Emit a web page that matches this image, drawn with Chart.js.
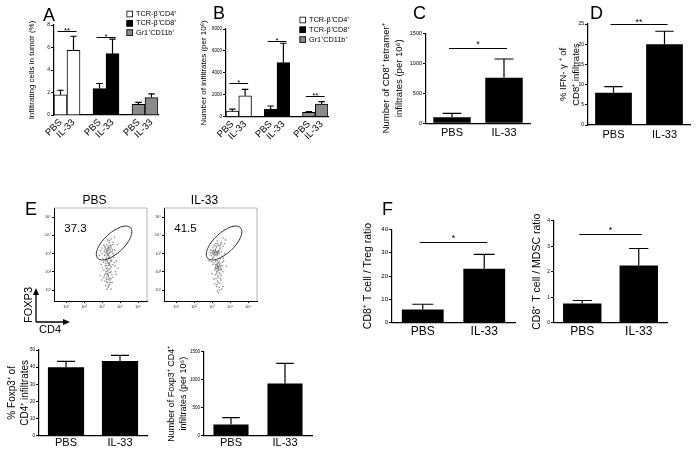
<!DOCTYPE html>
<html><head><meta charset="utf-8">
<script src="https://cdn.jsdelivr.net/npm/chart.js@4.4.1/dist/chart.umd.min.js"></script>
<style>
html,body{margin:0;padding:0;background:#fff;width:700px;height:450px;overflow:hidden}
canvas{position:absolute;left:0;top:0}
</style></head><body>
<canvas id="cA" width="700" height="450"></canvas>
<canvas id="cB" width="700" height="450"></canvas>
<canvas id="cC" width="700" height="450"></canvas>
<canvas id="cD" width="700" height="450"></canvas>
<canvas id="cE1" width="700" height="450"></canvas>
<canvas id="cE2" width="700" height="450"></canvas>
<canvas id="cE3" width="700" height="450"></canvas>
<canvas id="cE4" width="700" height="450"></canvas>
<canvas id="cF1" width="700" height="450"></canvas>
<canvas id="cF2" width="700" height="450"></canvas>
<script>
Chart.defaults.font.family = "'Liberation Sans', Arial, Helvetica, sans-serif";
Chart.defaults.color = '#000';

// ---------- DATA ----------
const groupCategories = ['PBS', 'IL-33', '', 'PBS', 'IL-33', '', 'PBS', 'IL-33'];
const seriesNames = ['TCR-β⁺CD4⁺', 'TCR-β⁺CD8⁺', 'Gr1⁺CD11b⁺'];
const twoGroups = ['PBS', 'IL-33'];

// Panel A: infiltrating cells in tumor (%)
const aCD4 = [1.8, 5.75], aCD4Err = [2.2, 7.0];
const aCD8 = [2.35, 5.45], aCD8Err = [2.8, 6.75];
const aGr1 = [0.95, 1.55], aGr1Err = [1.12, 1.88];
const aTicks = [0, 2, 4, 6, 8];
const aSig = [{from: 0, to: 1, y: 7.47, text: '**'}, {from: 3, to: 4, y: 6.97, text: '*'}];

// Panel B: number of infiltrates (per 10^6)
const bCD4 = [520, 1915], bCD4Err = [700, 2500];
const bCD8 = [700, 4930], bCD8Err = [975, 6700];
const bGr1 = [400, 1160], bGr1Err = [460, 1370];
const bTicks = [0, 2000, 4000, 6000, 8000];
const bSig = [{from: 0, to: 1, y: 3050, text: '*'}, {from: 3, to: 4, y: 6935, text: '*'}, {from: 6, to: 7, y: 1916, text: '**'}];

// Panel C: CD8+ tetramer+ infiltrates
const cVals = [100, 760], cErr = [167, 1072];
const cTicks = [0, 500, 1000, 1500];
const cSig = [{from: 0, to: 1, y: 1250, text: '*'}];

// Panel D: % IFN-γ+ of CD8+
const dVals = [8.0, 20.0], dErr = [9.5, 23.2];
const dTicks = [0, 5, 10, 15, 20, 25];
const dSig = [{from: 0, to: 1, y: 25, text: '**'}];

// Panel E: flow cytometry (log10 units of CD4, FOXP3)
const flowTitles = ['PBS', 'IL-33'];
const flowPercents = ['37.3', '41.5'];
const flowTicks = [1, 2, 3, 4, 5];
const pbsEvents = [[3.3,3.2],[3.4,3.25],[3.25,3.1],[3.45,3.15],[3.35,3.35],[3.2,3.3],[3.5,3.3],[3.3,3.0],[3.4,3.05],[3.15,3.2],[3.55,3.1],[3.35,2.9],[3.25,2.8],[3.45,2.75],[3.3,2.6],[3.4,2.5],[3.2,2.45],[3.5,2.55],[3.35,2.35],[3.25,2.2],[3.45,2.2],[3.3,2.05],[3.4,1.95],[3.2,1.9],[3.55,1.85],[3.35,1.75],[3.25,1.6],[3.45,1.55],[3.3,1.4],[3.4,1.3],[3.15,1.5],[3.6,1.7],[3.1,2.1],[3.6,2.4],[3.05,2.7],[3.65,2.9],[3.1,3.45],[3.6,3.5],[3.4,3.6],[3.3,3.75],[3.5,3.8],[3.0,3.0],[3.7,3.2],[2.95,2.4],[3.75,2.0],[3.35,1.15],[3.5,1.05],[3.2,1.25],[2.9,1.8],[3.8,2.6],[3.25,3.5],[3.45,3.45],[3.3,2.7],[3.4,2.85],[3.5,2.0],[3.2,2.6],[3.35,2.45],[3.45,2.35],[3.25,2.35],[3.3,1.85],[3.4,1.65],[3.15,2.9],[3.55,2.65],[3.6,3.0],[3.1,1.7],[3.0,3.3],[3.85,3.5],[3.7,3.9],[2.85,2.9],[3.9,2.2],[3.28,3.12],[3.38,3.18],[3.32,3.28],[3.42,3.35],[3.22,3.05],[3.36,2.98],
  [3.28,2.92],[3.38,2.78],[3.22,2.68],[3.48,2.62],[3.32,2.52],[3.42,2.42],[3.18,2.32],[3.52,2.28],[3.28,2.18],[3.38,2.12],[3.22,2.02],[3.46,1.98],[3.3,1.92],[3.36,1.82],[3.24,1.72],[3.5,1.62],[3.34,1.58],[3.26,1.45],[3.44,1.42],[3.36,1.22],[3.12,3.1],[3.58,3.22],[3.46,3.05],[3.24,3.22],[3.34,3.42],[3.52,3.42],[3.16,3.38],[3.4,3.72],[3.62,3.62],[3.08,2.52],[3.68,2.52],[3.02,2.22],[3.72,2.32],[3.28,1.05],[2.98,1.55],[3.78,1.85],[3.56,1.42],[3.14,1.82],[3.66,2.78],[2.92,3.15]];
const il33Events = [[3.15,3.05],[3.25,3.1],[3.05,3.0],[3.35,3.15],[3.2,3.25],[3.1,3.2],[3.3,2.95],[3.0,3.15],[3.4,3.0],[3.15,2.9],[3.25,3.35],[3.05,3.35],[3.45,3.3],[3.35,3.45],[3.2,3.55],[3.5,3.6],[3.3,3.7],[3.6,3.4],[2.95,2.9],[3.1,2.8],[3.3,2.35],[3.4,2.3],[3.2,2.25],[3.5,2.2],[3.35,2.15],[3.25,2.4],[3.45,2.45],[3.3,2.05],[3.15,2.1],[3.55,2.35],[3.4,1.95],[3.2,1.85],[3.35,1.7],[3.5,1.8],[3.3,1.5],[3.45,1.35],[3.25,1.2],[3.4,1.0],[3.35,0.85],[3.1,1.6],[3.6,2.0],[3.05,2.4],[3.65,2.6],[3.3,2.6],[3.2,2.6],[3.45,2.7],[3.0,2.55],[3.7,3.0],[3.55,2.85],[2.9,3.2],[3.75,3.75],[3.6,3.85],[3.35,2.5],[3.25,2.0],[3.5,1.55],[3.15,1.35],[3.6,1.2],[3.0,1.9],[3.8,2.3],[2.85,2.6],[3.3,3.05],[3.2,2.95],[3.1,3.1],[3.4,3.2],[3.25,2.2],[3.35,2.25],[3.45,2.1],[3.2,2.4],[3.18,3.12],[3.28,3.02],[3.32,2.28],[3.38,2.2],
  [3.12,3.02],[3.22,3.08],[3.02,3.08],[3.32,3.1],[3.18,3.18],[3.08,2.95],[3.28,2.88],[3.38,3.08],[3.22,3.42],[3.42,3.42],[3.12,3.45],[3.3,3.55],[3.48,3.5],[3.32,2.32],[3.42,2.38],[3.22,2.32],[3.48,2.28],[3.28,2.18],[3.38,2.08],[3.18,2.18],[3.52,2.12],[3.3,2.45],[3.4,2.55],[3.26,1.92],[3.44,1.88],[3.32,1.78],[3.22,1.62],[3.46,1.65],[3.36,1.42],[3.28,1.32],[3.4,1.15],[3.12,2.5],[3.58,2.52],[3.02,2.75],[3.62,2.75],[3.52,3.1],[2.92,3.05],[3.7,3.55],[3.3,0.95],[3.55,1.05]];

// Panel E bars
const eFoxVals = [40.0, 43.6], eFoxErr = [43.4, 46.9];
const eFoxTicks = [0, 10, 20, 30, 40, 50];
const eNumVals = [202, 934], eNumErr = [321, 1292];
const eNumTicks = [0, 500, 1000, 1500];

// Panel F ratios
const fTregVals = [5.6, 23.1], fTregErr = [7.9, 29.3];
const fTregTicks = [0, 10, 20, 30, 40];
const fTregSig = [{from: 0, to: 1, y: 34.4, text: '*'}];
const fMdscVals = [0.75, 2.24], fMdscErr = [0.87, 2.91];
const fMdscTicks = [0, 1, 2, 3, 4];
const fMdscSig = [{from: 0, to: 1, y: 3.48, text: '*'}];

// ---------- PLUGINS ----------
const errorBars = {
  id: 'errorBars',
  afterDatasetsDraw(chart) {
    const ctx = chart.ctx, y = chart.scales.y;
    chart.data.datasets.forEach((ds, di) => {
      if (!ds.errors) return;
      chart.getDatasetMeta(di).data.forEach((bar, i) => {
        const e = ds.errors[i];
        if (e == null || ds.data[i] == null) return;
        const top = y.getPixelForValue(e), hw = bar.width * 0.25;
        ctx.save();
        ctx.strokeStyle = '#000'; ctx.lineWidth = 1.2;
        ctx.beginPath();
        ctx.moveTo(bar.x, bar.y); ctx.lineTo(bar.x, top);
        ctx.moveTo(bar.x - hw, top); ctx.lineTo(bar.x + hw, top);
        ctx.stroke(); ctx.restore();
      });
    });
  }
};
const sigPlugin = {
  id: 'sig',
  afterDatasetsDraw(chart, args, o) {
    if (!o.items) return;
    const ctx = chart.ctx, x = chart.scales.x, y = chart.scales.y;
    o.items.forEach(it => {
      const x1 = x.getPixelForValue(it.from) - o.ext, x2 = x.getPixelForValue(it.to) + o.ext;
      const py = Math.round(y.getPixelForValue(it.y)) + 0.5;
      ctx.save();
      ctx.strokeStyle = '#000'; ctx.lineWidth = 1;
      ctx.beginPath(); ctx.moveTo(x1, py); ctx.lineTo(x2, py); ctx.stroke();
      ctx.fillStyle = '#000'; ctx.font = o.size + "px 'Liberation Sans', Arial";
      ctx.textAlign = 'center'; ctx.textBaseline = 'alphabetic';
      ctx.fillText(it.text, (x1 + x2) / 2, py + o.dy);
      ctx.restore();
    });
  }
};
const miniLegend = {
  id: 'miniLegend',
  afterDraw(chart, args, o) {
    if (!o.show) return;
    const ctx = chart.ctx;
    chart.data.datasets.forEach((ds, i) => {
      const cy = o.y + i * o.row;
      ctx.save();
      ctx.fillStyle = ds.backgroundColor; ctx.fillRect(o.x, cy - o.box / 2, o.box, o.box);
      ctx.strokeStyle = '#000'; ctx.lineWidth = 0.8; ctx.strokeRect(o.x + 0.4, cy - o.box / 2 + 0.4, o.box - 0.8, o.box - 0.8);
      ctx.fillStyle = '#000'; ctx.font = o.size + "px 'Liberation Sans', Arial";
      ctx.textAlign = 'left'; ctx.textBaseline = 'middle';
      ctx.fillText(ds.label, o.x + o.box + 3, cy);
      ctx.restore();
    });
  }
};
const panelLetter = {
  id: 'panelLetter',
  afterDraw(chart, args, o) {
    if (!o.text) return;
    const ctx = chart.ctx;
    ctx.save(); ctx.fillStyle = '#000';
    ctx.font = o.size + "px 'Liberation Sans', Arial";
    ctx.textAlign = 'left'; ctx.textBaseline = 'alphabetic';
    ctx.fillText(o.text, o.x, o.y);
    ctx.restore();
  }
};
const framePlugin = {
  id: 'frame',
  beforeDatasetsDraw(chart) {
    const {left, top, right, bottom} = chart.chartArea, ctx = chart.ctx;
    ctx.save(); ctx.strokeStyle = '#a0a0a0'; ctx.lineWidth = 0.8;
    ctx.beginPath(); ctx.moveTo(left, top); ctx.lineTo(right, top); ctx.lineTo(right, bottom); ctx.stroke();
    ctx.restore();
  }
};
const gatePlugin = {
  id: 'gate',
  afterDatasetsDraw(chart, args, o) {
    const x = chart.scales.x, y = chart.scales.y, ctx = chart.ctx;
    const ppu = Math.abs(x.getPixelForValue(1) - x.getPixelForValue(0));
    ctx.save(); ctx.strokeStyle = '#333'; ctx.lineWidth = 1;
    ctx.beginPath();
    ctx.ellipse(x.getPixelForValue(o.cx), y.getPixelForValue(o.cy), o.rx * ppu, o.ry * ppu, o.angle * Math.PI / 180, 0, Math.PI * 2);
    ctx.stroke();
    ctx.fillStyle = '#000'; ctx.font = o.size + "px 'Liberation Sans', Arial";
    ctx.textAlign = 'left'; ctx.textBaseline = 'middle';
    ctx.fillText(o.label, x.getPixelForValue(o.lx), y.getPixelForValue(o.ly));
    ctx.restore();
  }
};
const axisArrows = {
  id: 'axisArrows',
  afterDraw(chart, args, o) {
    if (!o.show) return;
    const ctx = chart.ctx;
    ctx.save(); ctx.strokeStyle = '#000'; ctx.fillStyle = '#000'; ctx.lineWidth = 1.3;
    ctx.beginPath(); ctx.moveTo(36, 322); ctx.lineTo(36, 293); ctx.moveTo(36, 322); ctx.lineTo(66, 322); ctx.stroke();
    ctx.beginPath(); ctx.moveTo(36, 288); ctx.lineTo(33, 295); ctx.lineTo(39, 295); ctx.closePath(); ctx.fill();
    ctx.beginPath(); ctx.moveTo(70, 322); ctx.lineTo(63, 319); ctx.lineTo(63, 325); ctx.closePath(); ctx.fill();
    ctx.font = "11px 'Liberation Sans', Arial"; ctx.textBaseline = 'middle'; ctx.textAlign = 'center';
    ctx.fillText('CD4', 50, 329.5);
    ctx.translate(29, 305); ctx.rotate(-Math.PI / 2); ctx.fillText('FOXP3', 0, 0);
    ctx.restore();
  }
};

// ---------- HELPERS ----------
function spread(vals, start) {
  const out = groupCategories.map(() => null);
  vals.forEach((v, i) => { out[start + i] = v; });
  return out;
}
function barChart(id, c) {
  const lh = c.titleSize * c.titleLH;
  const padLeft = c.titleX - lh / 2;
  const yW = c.area.l - padLeft;
  return new Chart(document.getElementById(id), {
    type: 'bar',
    data: {labels: c.labels, datasets: c.datasets},
    options: {
      responsive: false, animation: false, events: [], devicePixelRatio: 1,
      layout: {padding: {left: padLeft, top: c.area.t, right: 700 - c.area.r, bottom: 450 - c.area.b - c.xH}},
      plugins: {
        legend: {display: false}, tooltip: {enabled: false},
        sig: {items: c.sig, ext: 3, dy: c.sigDy, size: c.sigSize},
        miniLegend: c.legend || {show: false},
        panelLetter: c.letter || {}
      },
      scales: {
        x: {
          grid: {display: false, drawTicks: false},
          border: {display: true, color: '#000', width: 1.2},
          ticks: {color: '#000', font: {size: c.xFont}, padding: c.xPad, minRotation: c.rot, maxRotation: c.rot, autoSkip: false},
          afterFit: s => { s.height = c.xH; }
        },
        y: {
          min: 0, max: c.ticks[c.ticks.length - 1],
          afterBuildTicks: s => { s.ticks = c.ticks.map(v => ({value: v})); },
          grid: {drawOnChartArea: false, tickLength: 3, tickColor: '#000', tickWidth: 1},
          border: {display: true, color: '#000', width: 1.2},
          ticks: {color: '#000', font: {size: c.tickSize}, padding: 1, callback: v => String(v)},
          title: {display: true, text: c.title, font: {size: c.titleSize, lineHeight: c.titleLH}, padding: 0, color: '#000'},
          afterFit: s => { s.width = yW; }
        }
      }
    },
    plugins: [errorBars, sigPlugin, miniLegend, panelLetter]
  });
}
function groupedSets(v1, e1, v2, e2, v3, e3) {
  const colors = ['#ffffff', '#000000', '#8a8a8a'];
  const vals = [v1, v2, v3], errs = [e1, e2, e3];
  return seriesNames.map((name, k) => ({
    label: name, data: spread(vals[k], k * 3), errors: spread(errs[k], k * 3),
    backgroundColor: colors[k], borderColor: '#000', borderWidth: 1,
    grouped: false, barPercentage: 1, categoryPercentage: 1
  }));
}
function pairSet(vals, errs, pct) {
  return [{label: 'mean', data: vals, errors: errs, backgroundColor: '#000', borderColor: '#000', borderWidth: 0,
    barPercentage: pct, categoryPercentage: 1}];
}
const sup = {1: '¹', 2: '²', 3: '³', 4: '⁴', 5: '⁵'};
function flowChart(id, events, idx, area, arrows) {
  const yW = 12, xH = 10, tH = 14.4;
  const axis = (extra) => Object.assign({
    type: 'linear',
    afterBuildTicks: s => { s.ticks = flowTicks.map(v => ({value: v})); },
    ticks: {font: {size: 4}, padding: 1, color: '#333', callback: v => '10' + sup[v]},
    grid: {drawOnChartArea: false, tickLength: 2, tickColor: '#000'},
    border: {color: '#000', width: 1}
  }, extra);
  return new Chart(document.getElementById(id), {
    type: 'scatter',
    data: {datasets: [{label: flowTitles[idx], data: events.map(p => ({x: p[0], y: p[1]})),
      pointRadius: 0.8, pointBackgroundColor: 'rgba(85,85,85,0.7)', pointBorderWidth: 0}]},
    options: {
      responsive: false, animation: false, events: [], devicePixelRatio: 1,
      layout: {padding: {left: area.l - yW, top: area.t - tH, right: 700 - area.r, bottom: 450 - area.b - xH}},
      plugins: {
        legend: {display: false}, tooltip: {enabled: false},
        title: {display: true, text: flowTitles[idx], font: {size: 12, weight: 'normal'}, padding: 0, color: '#000'},
        gate: {cx: 3.67, cy: 3.58, rx: 1.25, ry: 0.56, angle: -43, label: flowPercents[idx], lx: 0.9, ly: 4.34, size: 11.5},
        axisArrows: {show: arrows},
        panelLetter: arrows ? {text: 'E', x: 25, y: 215, size: 18} : {}
      },
      scales: {
        x: axis({min: 0.33, max: 5.5, afterFit: s => { s.height = xH; }}),
        y: axis({min: 0.4, max: 5.5, afterFit: s => { s.width = yW; }})
      }
    },
    plugins: [framePlugin, gatePlugin, axisArrows, panelLetter]
  });
}

// ---------- CHARTS ----------
barChart('cA', {
  labels: groupCategories, datasets: groupedSets(aCD4, aCD4Err, aCD8, aCD8Err, aGr1, aGr1Err),
  area: {l: 54, t: 25, r: 158, b: 115}, xH: 28, xPad: 2, rot: 45, xFont: 9.5,
  ticks: aTicks, tickSize: 5, title: 'Infiltrating cells in tumor (%)', titleSize: 8, titleLH: 1.2, titleX: 32,
  sig: aSig, sigDy: 1.5, sigSize: 8,
  legend: {show: true, x: 126.5, y: 14, row: 9.3, box: 6.5, size: 7.3},
  letter: {text: 'A', x: 43, y: 20.5, size: 18}
});
barChart('cB', {
  labels: groupCategories, datasets: groupedSets(bCD4, bCD4Err, bCD8, bCD8Err, bGr1, bGr1Err),
  area: {l: 226, t: 29, r: 328, b: 116.7}, xH: 28, xPad: 2, rot: 45, xFont: 9.5,
  ticks: bTicks, tickSize: 4.5, title: 'Number of infiltrates (per 10⁶)', titleSize: 8, titleLH: 1.2, titleX: 203.5,
  sig: bSig, sigDy: 1.2, sigSize: 8,
  legend: {show: true, x: 299.5, y: 20, row: 9.8, box: 6.5, size: 7.3},
  letter: {text: 'B', x: 213, y: 19, size: 18}
});
barChart('cC', {
  labels: twoGroups, datasets: pairSet(cVals, cErr, 0.72),
  area: {l: 426, t: 33.3, r: 530, b: 123.3}, xH: 20, xPad: 3, rot: 0, xFont: 11,
  ticks: cTicks, tickSize: 5.5, title: ['Number of CD8⁺ tetramer⁺', 'infiltrates (per 10⁶)'], titleSize: 9.5, titleLH: 1.37, titleX: 386,
  sig: cSig, sigDy: -2, sigSize: 9,
  letter: {text: 'C', x: 413, y: 19, size: 18}
});
barChart('cD', {
  labels: twoGroups, datasets: pairSet(dVals, dErr, 0.72),
  area: {l: 588, t: 24, r: 690, b: 125}, xH: 20, xPad: 3, rot: 0, xFont: 11,
  ticks: dTicks, tickSize: 5, title: ['% IFN- γ ⁺ of', 'CD8⁺ infiltrates'], titleSize: 9.5, titleLH: 1.45, titleX: 563,
  sig: dSig, sigDy: 0, sigSize: 9,
  letter: {text: 'D', x: 590, y: 19, size: 18}
});
flowChart('cE1', pbsEvents, 0, {l: 54, t: 208, r: 147, b: 301}, true);
flowChart('cE2', il33Events, 1, {l: 164, t: 208, r: 257, b: 301}, false);
barChart('cE3', {
  labels: twoGroups, datasets: pairSet(eFoxVals, eFoxErr, 0.67),
  area: {l: 39, t: 350, r: 147, b: 435.7}, xH: 14, xPad: 1, rot: 0, xFont: 11,
  ticks: eFoxTicks, tickSize: 4.5, title: ['% Foxp3⁺ of', 'CD4⁺ infiltrates'], titleSize: 10, titleLH: 1.3, titleX: 12,
  sig: [], sigDy: 0, sigSize: 9
});
barChart('cE4', {
  labels: twoGroups, datasets: pairSet(eNumVals, eNumErr, 0.65),
  area: {l: 204, t: 351.7, r: 312, b: 435.7}, xH: 14, xPad: 1, rot: 0, xFont: 11,
  ticks: eNumTicks, tickSize: 4.5, title: ['Number of Foxp3⁺ CD4⁺', 'infiltrates (per 10⁶)'], titleSize: 9, titleLH: 1.3, titleX: 172,
  sig: [], sigDy: 0, sigSize: 9
});
barChart('cF1', {
  labels: twoGroups, datasets: pairSet(fTregVals, fTregErr, 0.68),
  area: {l: 392, t: 229.3, r: 515, b: 322.7}, xH: 20, xPad: 2, rot: 0, xFont: 12,
  ticks: fTregTicks, tickSize: 6, title: 'CD8⁺ T cell / Treg ratio', titleSize: 10.5, titleLH: 1.2, titleX: 368,
  sig: fTregSig, sigDy: -2, sigSize: 9,
  letter: {text: 'F', x: 382, y: 215, size: 18}
});
barChart('cF2', {
  labels: twoGroups, datasets: pairSet(fMdscVals, fMdscErr, 0.68),
  area: {l: 554, t: 220.7, r: 667, b: 322.7}, xH: 20, xPad: 2, rot: 0, xFont: 12,
  ticks: fMdscTicks, tickSize: 5, title: 'CD8⁺ T cell / MDSC ratio', titleSize: 10.5, titleLH: 1.2, titleX: 537,
  sig: fMdscSig, sigDy: -2, sigSize: 9
});
</script></body></html>
